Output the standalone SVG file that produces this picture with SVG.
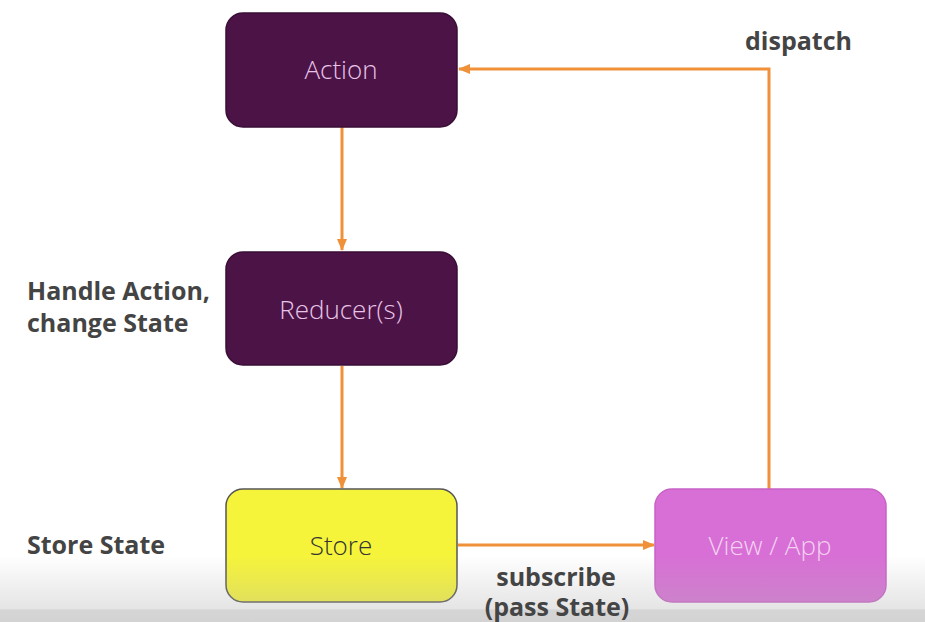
<svg xmlns="http://www.w3.org/2000/svg" width="925" height="622" viewBox="0 0 925 622">
  <defs>
    <marker id="arrow" viewBox="0 0 12 10" refX="11" refY="5" markerWidth="12" markerHeight="10" markerUnits="userSpaceOnUse" orient="auto">
      <path d="M0,0 L12,5 L0,10 Z" fill="#f0913a"/>
    </marker>
    <linearGradient id="shade" x1="0" y1="0" x2="0" y2="1">
      <stop offset="0" stop-color="#b0b0b0" stop-opacity="0"/>
      <stop offset="0.8" stop-color="#b0b0b0" stop-opacity="0.55"/>
      <stop offset="0.82" stop-color="#a8a8a8" stop-opacity="0.8"/>
      <stop offset="1" stop-color="#a8a8a8" stop-opacity="0.85"/>
    </linearGradient>
    <style>
      .box { stroke-width: 1.5; }
      .dark { fill: #4b1346; stroke: #3a0e36; }
      .store { fill: #f6f43a; stroke: #555; }
      .view { fill: #d86fd6; stroke: #c863c6; }
      .ntext { font-family: "Open Sans", "Liberation Sans", sans-serif; font-weight: 300; font-size: 26px; text-anchor: middle; }
      .light { fill: #e8c4e6; }
      .lbl { font-family: "Open Sans", "Liberation Sans", sans-serif; font-weight: bold; font-size: 25px; fill: #444; }
      .edge { fill: none; stroke: #f0913a; stroke-width: 3; marker-end: url(#arrow); }
    </style>
  </defs>

  <rect x="0" y="0" width="925" height="622" fill="#ffffff"/>

  <!-- connectors -->
  <g id="connectors">
    <path class="edge" d="M342,127 L342,250"/>
    <path class="edge" d="M342,366 L342,488"/>
    <path class="edge" d="M458,545 L654,545"/>
    <path class="edge" d="M769,489 L769,69 L459,69"/>
  </g>

  <g id="action">
    <rect class="box dark" x="226" y="13" width="231" height="114" rx="17"/>
    <text class="ntext light" x="341" y="79">Action</text>
  </g>

  <g id="reducer">
    <rect class="box dark" x="226" y="252" width="231" height="113" rx="17"/>
    <text class="ntext light" x="341" y="319">Reducer(s)</text>
  </g>

  <g id="store">
    <rect class="box store" x="226" y="489" width="231" height="113" rx="17"/>
    <text class="ntext" x="341" y="555" fill="#333">Store</text>
  </g>

  <g id="view">
    <rect class="box view" x="655" y="489" width="231" height="113" rx="17"/>
    <text class="ntext" x="770" y="555" fill="#f3d2f1">View / App</text>
  </g>

  <!-- soft grey fade along the bottom edge -->
  <rect x="0" y="555" width="925" height="67" fill="url(#shade)" opacity="0.6"/>

  <g id="labels">
    <text class="lbl" x="27" y="300">Handle Action,</text>
    <text class="lbl" x="27" y="332">change State</text>
    <text class="lbl" x="27" y="554">Store State</text>
    <text class="lbl" x="745" y="50">dispatch</text>
    <text class="lbl" x="556" y="586" text-anchor="middle">subscribe</text>
    <text class="lbl" x="557" y="616" text-anchor="middle">(pass State)</text>
  </g>
</svg>
